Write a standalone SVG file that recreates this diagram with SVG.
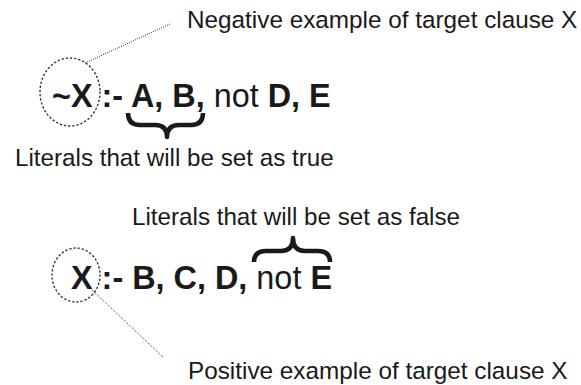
<svg xmlns="http://www.w3.org/2000/svg" width="581" height="385" viewBox="0 0 581 385">
<style>
.lbl{font-family:"Liberation Sans",Arial,sans-serif;font-size:24.2px;fill:#1a1a1a}
.f{font-family:"Liberation Sans",Arial,sans-serif;font-size:32.4px;fill:#1a1a1a}
.b{font-weight:bold}
.dot{fill:none;stroke:#333;stroke-width:1.4;stroke-dasharray:1.2 3;stroke-linecap:round}
.lead{fill:none;stroke:#333;stroke-width:1;stroke-dasharray:1 1.2}
.brace{fill:none;stroke:#1a1a1a;stroke-width:4.5;stroke-linejoin:round;stroke-linecap:butt}
</style>
<rect width="581" height="385" fill="#fff"/>
<g id="neg-label"><text class="lbl" x="187" y="27.5" style="font-size:24.3px">Negative example of target clause X</text></g>
<g id="neg-clause">
<text class="f" x="52" y="107"><tspan class="b">~X :- A, B,</tspan> not <tspan class="b">D, E</tspan></text>
<ellipse class="dot" cx="70" cy="92" rx="30" ry="34"/>
</g>
<g id="true-brace">
<path class="brace" d="M128,113 Q128,125 140,125 L155,125 Q167,125 167,137 Q167,125 179,125 L191,125 Q203,125 203,113"/>
<text class="lbl" x="15" y="165.5">Literals that will be set as true</text>
</g>
<g id="false-brace">
<text class="lbl" x="132" y="224.5">Literals that will be set as false</text>
<path class="brace" d="M254,262 Q254,251 266,251 L281,251 Q293,251 293,238 Q293,251 305,251 L318,251 Q330,251 330,262"/>
</g>
<g id="pos-clause">
<text class="f" x="71" y="289"><tspan class="b">X :- B, C, D,</tspan> not <tspan class="b">E</tspan></text>
<ellipse class="dot" cx="76" cy="275" rx="24" ry="27"/>
</g>
<g id="pos-label"><text class="lbl" x="188" y="379" style="font-size:24.3px">Positive example of target clause X</text></g>
<g id="connectors">
<line class="lead" x1="85" y1="63" x2="170" y2="24"/>
<line class="lead" x1="92" y1="290" x2="163" y2="357"/>
</g>
</svg>
